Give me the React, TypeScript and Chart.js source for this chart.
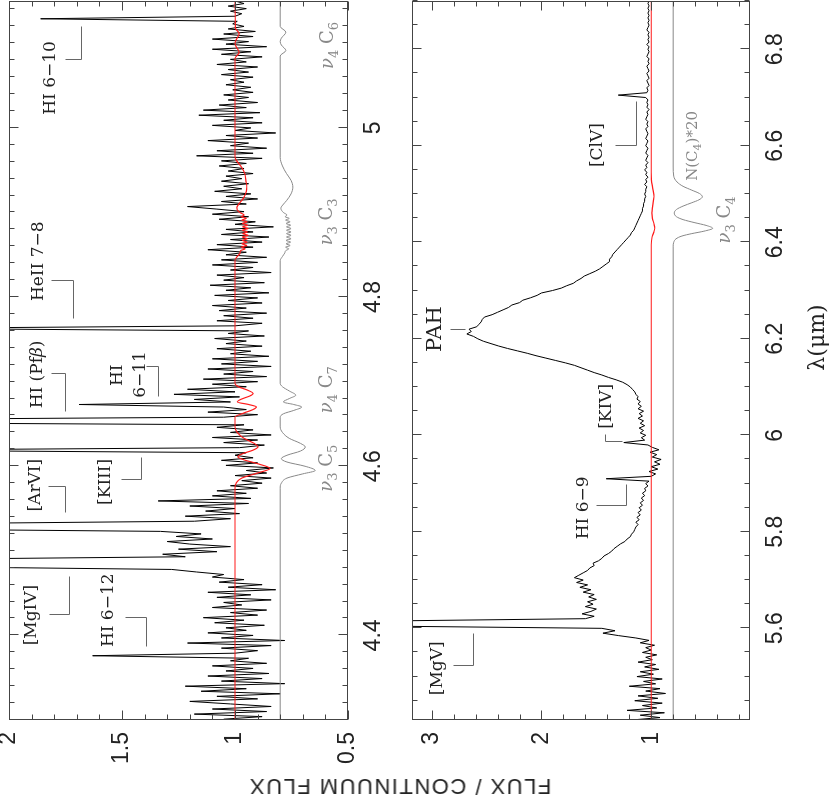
import React, { useEffect, useRef } from "react";
import { Chart, registerables } from "chart.js";

Chart.register(...registerables);

// ================= TOP PANEL (4.3 - 5.15 micron) =================
const TOP_LAMBDA_START = 4.301;
const TOP_LAMBDA_STEP = 0.003;
const TOP_FLUX = [
  1.05, 0.88, 1.18, 0.86, 1.10, 0.84, 1.02, 1.20, 0.90, 1.08,
  0.80, 1.15, 0.95, 1.22, 0.78, 1.06, 0.88, 1.12, 0.85, 1.04,
  0.92, 1.10, 0.86, 1.02, 0.94, 1.63, 1.00, 0.90, 1.06, 0.84,
  1.21, 0.78, 1.06, 0.92, 1.12, 0.95, 1.04, 0.87, 1.09, 0.96,
  1.14, 0.90, 1.02, 0.86, 1.10, 0.97, 1.05, 0.84, 1.08, 0.93,
  1.12, 0.82, 1.03, 0.88, 1.07, 0.96, 1.10, 1.05, 1.17, 1.28,
  2.3, 3.0, 3.0, 2.4, 1.22, 1.32, 1.08, 1.25, 1.02, 1.20,
  1.30, 1.10, 1.26, 1.15, 1.33, 2.6, 3.0, 2.4, 1.18, 1.02,
  1.22, 0.98, 1.13, 1.00, 1.20, 0.94, 1.34, 0.93, 1.10, 0.95,
  1.08, 0.90, 1.02, 0.88, 0.97, 0.84, 1.00, 0.86, 0.95, 0.83,
  1.04, 0.90, 1.06, 0.92, 1.00, 0.95, 2.6, 0.98, 0.87, 1.05,
  0.90, 1.10, 0.84, 1.02, 0.92, 1.08, 0.96, 3.0, 2.8, 1.05,
  0.90, 1.12, 0.95, 1.05, 1.69, 1.02, 1.18, 0.98, 1.27, 1.00,
  1.21, 0.95, 1.10, 0.90, 1.14, 0.86, 1.05, 0.92, 1.12, 0.84,
  1.06, 0.90, 1.10, 0.85, 1.02, 0.93, 1.08, 0.88, 1.04, 0.95,
  1.09, 0.87, 1.03, 0.94, 2.5, 1.00, 0.88, 1.08, 0.92, 1.05,
  0.86, 1.07, 0.95, 1.10, 0.88, 1.03, 0.90, 1.09, 0.85, 1.04,
  0.93, 1.11, 0.87, 1.05, 0.96, 1.08, 0.84, 1.02, 0.92, 1.10,
  0.90, 1.06, 0.86, 1.04, 0.95, 1.12, 0.92, 1.08, 0.88, 1.02,
  0.85, 1.06, 0.92, 1.04, 0.83, 1.00, 0.91, 1.07, 0.94, 1.10,
  0.96, 1.08, 1.21, 0.95, 1.06, 0.90, 1.04, 0.93, 1.09, 0.97,
  1.05, 0.94, 1.06, 0.97, 1.04, 0.92, 1.03, 0.96, 1.07, 0.95,
  1.06, 0.88, 1.17, 0.92, 1.08, 0.86, 1.02, 0.94, 1.12, 0.90,
  1.04, 0.82, 1.00, 0.93, 1.10, 0.88, 1.05, 0.92, 1.16, 0.89,
  1.14, 0.95, 1.07, 0.90, 1.03, 0.94, 1.05, 0.92, 1.01, 0.93,
  1.04, 0.96, 1.02, 0.92, 1.06, 0.94, 1.03, 0.90, 1.08, 0.95,
  1.02, 0.88, 1.06, 0.93, 1.10, 0.86, 1.04, 0.94, 1.10, 0.92,
  1.05, 0.91, 1.03, 0.96, 1.01, 0.99, 1.86, 1.00, 0.97, 1.02,
  0.95, 1.03, 0.96, 1.00,
];

// red model (lambda, flux)
const TOP_FIT: [number, number][] = [
  [4.300, 1.0], [4.574, 1.0], [4.580, 0.995], [4.586, 0.97], [4.592, 0.90], [4.5974, 0.845],
  [4.603, 0.90], [4.608, 0.965], [4.6111, 0.987], [4.615, 0.965], [4.619, 0.92], [4.6229, 0.898],
  [4.627, 0.915], [4.633, 0.96], [4.640, 0.99], [4.6465, 1.0], [4.658, 1.0], [4.663, 0.96],
  [4.667, 0.92], [4.670, 0.905], [4.673, 0.94], [4.676, 0.99], [4.679, 0.975], [4.683, 0.935],
  [4.686, 0.92], [4.690, 0.945], [4.694, 0.985], [4.698, 1.0], [4.843, 1.0], [4.848, 0.99],
  [4.852, 0.978], [4.855, 0.975], [4.857, 0.955], [4.859, 0.972], [4.861, 0.948], [4.863, 0.970],
  [4.865, 0.946], [4.867, 0.968], [4.869, 0.944], [4.871, 0.968], [4.873, 0.942], [4.875, 0.966],
  [4.877, 0.944], [4.879, 0.968], [4.881, 0.942], [4.883, 0.966], [4.885, 0.944], [4.887, 0.968],
  [4.889, 0.946], [4.891, 0.970], [4.893, 0.950], [4.895, 0.972], [4.897, 0.960], [4.900, 0.978],
  [4.903, 0.99], [4.906, 0.992], [4.911, 0.98], [4.918, 0.96], [4.925, 0.95], [4.930, 0.948],
  [4.937, 0.952], [4.946, 0.957], [4.955, 0.975], [4.962, 0.995], [4.966, 1.0], [5.082, 1.0],
  [5.0892, 0.982], [5.096, 0.995], [5.100, 1.0], [5.104, 0.995], [5.1116, 0.982], [5.118, 0.998],
  [5.150, 1.0],
];

// grey offset band model (lambda, flux)
const TOP_BANDS: [number, number][] = [
  [4.300, 0.8], [4.574, 0.8], [4.580, 0.795], [4.586, 0.77], [4.591, 0.70], [4.595, 0.645],
  [4.600, 0.69], [4.605, 0.77], [4.609, 0.795], [4.613, 0.77], [4.618, 0.71], [4.6228, 0.689],
  [4.627, 0.71], [4.633, 0.76], [4.640, 0.79], [4.6465, 0.8], [4.658, 0.8], [4.662, 0.786],
  [4.666, 0.74], [4.670, 0.705], [4.673, 0.74], [4.676, 0.786], [4.680, 0.76], [4.684, 0.731],
  [4.689, 0.76], [4.694, 0.79], [4.698, 0.8], [4.843, 0.8], [4.848, 0.79], [4.852, 0.78],
  [4.855, 0.775], [4.857, 0.762], [4.859, 0.776], [4.861, 0.756], [4.863, 0.774], [4.865, 0.754],
  [4.867, 0.774], [4.869, 0.752], [4.871, 0.772], [4.873, 0.752], [4.875, 0.772], [4.877, 0.752],
  [4.879, 0.772], [4.881, 0.752], [4.883, 0.772], [4.885, 0.754], [4.887, 0.774], [4.889, 0.756],
  [4.891, 0.776], [4.893, 0.760], [4.895, 0.778], [4.897, 0.770], [4.900, 0.786], [4.905, 0.797],
  [4.910, 0.785], [4.914, 0.772], [4.922, 0.752], [4.930, 0.744], [4.938, 0.752], [4.946, 0.772],
  [4.955, 0.79], [4.965, 0.8], [5.085, 0.8], [5.0915, 0.775], [5.098, 0.795], [5.102, 0.8],
  [5.106, 0.795], [5.1132, 0.775], [5.120, 0.8], [5.150, 0.8],
];

const TOP_X_TICKS = [4.4, 4.6, 4.8, 5.0];
const TOP_X_LABELS = ["4.4", "4.6", "4.8", "5"];
const TOP_Y_TICKS = [0.5, 1, 1.5, 2];
const TOP_Y_LABELS = ["0.5", "1", "1.5", "2"];

// [text, lambda, flux, font size]
const TOP_LINE_LABELS: [string, number, number, number][] = [
  ["HI 6−10", 5.059, 1.824, 17],
  ["HeII 7−8", 4.8423, 1.879, 17],
  ["HI (Pfβ)", 4.7085, 1.883, 17],
  ["HI", 4.7076, 1.529, 17],
  ["6−11", 4.7085, 1.425, 17],
  ["[ArVI]", 4.5776, 1.891, 17],
  ["[KIII]", 4.5815, 1.581, 17],
  ["[MgIV]", 4.4241, 1.906, 17],
  ["HI 6−12", 4.4297, 1.566, 17],
];
const TOP_BRACKETS: [number, number][][] = [
  [[5.0797, 1.754], [5.0797, 1.680], [5.1190, 1.680]],
  [[4.8190, 1.813], [4.8190, 1.717], [4.7746, 1.717]],
  [[4.7096, 1.813], [4.7096, 1.754], [4.6642, 1.754]],
  [[4.7174, 1.392], [4.7174, 1.341], [4.6820, 1.341]],
  [[4.5749, 1.828], [4.5749, 1.754], [4.5442, 1.754]],
  [[4.5836, 1.503], [4.5836, 1.414], [4.6092, 1.414]],
  [[4.4241, 1.821], [4.4241, 1.735], [4.4688, 1.735]],
  [[4.4202, 1.488], [4.4202, 1.392], [4.3866, 1.392]],
];
const TOP_BAND_LABELS: [string, number, number, number][] = [
  ["ν_4 C_6", 5.0974, 0.597, 18],
  ["ν_3 C_3", 4.8889, 0.600, 18],
  ["ν_4 C_7", 4.6904, 0.600, 18],
  ["ν_3 C_5", 4.5977, 0.600, 18],
];

// ================= BOTTOM PANEL (5.41 - 6.90 micron) =================
const BOT_LAMBDA_START = 5.41;
const BOT_LAMBDA_STEP = 0.005;
const BOT_FLUX = [
  1.18, 0.92, 1.10, 0.88, 1.22, 0.95, 1.08, 0.90, 1.15, 0.94,
  1.12, 0.87, 1.05, 0.92, 1.20, 0.96, 1.07, 0.90, 1.13, 0.98,
  1.10, 0.93, 1.06, 0.96, 1.12, 0.99, 1.05, 0.95, 1.08, 1.00,
  1.05, 0.97, 1.10, 1.02, 1.14, 1.30, 1.44, 1.33, 1.45, 3.6,
  4.0, 3.5, 1.60, 1.52, 1.63, 1.55, 1.50, 1.60, 1.53, 1.58,
  1.50, 1.57, 1.52, 1.62, 1.55, 1.65, 1.58, 1.68, 1.62, 1.70,
  1.66, 1.62, 1.58, 1.56, 1.52, 1.53, 1.48, 1.45, 1.43, 1.39,
  1.36, 1.34, 1.31, 1.28, 1.24, 1.22, 1.19, 1.18, 1.16, 1.15,
  1.14, 1.12, 1.14, 1.11, 1.13, 1.10, 1.12, 1.09, 1.11, 1.08,
  1.10, 1.07, 1.09, 1.06, 1.08, 1.05, 1.06, 1.03, 1.05, 1.02,
  1.41, 1.00, 0.96, 1.02, 0.94, 1.00, 0.92, 0.97, 0.91, 0.99,
  0.95, 1.01, 0.93, 0.99, 1.03, 1.25, 1.06, 1.09, 1.05, 1.10,
  1.07, 1.11, 1.06, 1.10, 1.07, 1.12, 1.08, 1.11, 1.07, 1.12,
  1.09, 1.12, 1.10, 1.13, 1.12, 1.14, 1.15, 1.17, 1.19, 1.22,
  1.26, 1.32, 1.39, 1.45, 1.52, 1.58, 1.64, 1.70, 1.78, 1.87,
  1.96, 2.05, 2.13, 2.22, 2.31, 2.39, 2.46, 2.53, 2.58, 2.62,
  2.68, 2.64, 2.66, 2.59, 2.57, 2.55, 2.54, 2.52, 2.45, 2.40,
  2.35, 2.30, 2.27, 2.20, 2.17, 2.10, 2.04, 2.00, 1.90, 1.82,
  1.77, 1.71, 1.68, 1.64, 1.61, 1.56, 1.51, 1.47, 1.44, 1.41,
  1.38, 1.38, 1.36, 1.35, 1.33, 1.31, 1.29, 1.27, 1.25, 1.23,
  1.21, 1.19, 1.18, 1.16, 1.15, 1.14, 1.13, 1.12, 1.11, 1.10,
  1.09, 1.08, 1.08, 1.07, 1.07, 1.06, 1.06, 1.05, 1.06, 1.05,
  1.05, 1.04, 1.06, 1.04, 1.05, 1.03, 1.05, 1.04, 1.06, 1.04,
  1.05, 1.03, 1.05, 1.04, 1.03, 1.05, 1.04, 1.03, 1.05, 1.04,
  1.03, 1.05, 1.04, 1.03, 1.04, 1.05, 1.03, 1.04, 1.03, 1.05,
  1.04, 1.03, 1.04, 1.02, 1.04, 1.03, 1.04, 1.03, 1.05, 1.30,
  1.04, 1.03, 1.04, 1.02, 1.03, 1.04, 1.02, 1.03, 1.04, 1.02,
  1.03, 1.04, 1.02, 1.03, 1.02, 1.04, 1.03, 1.02, 1.03, 1.02,
  1.04, 1.02, 1.03, 1.02, 1.03, 1.02, 1.04, 1.03, 1.02, 1.03,
  1.02, 1.03, 1.02, 1.03, 1.02, 1.03, 1.02, 1.03, 1.02,
];

const BOT_FIT: [number, number][] = [
  [5.41, 1.0], [6.395, 1.0], [6.410, 0.993], [6.420, 0.978], [6.429, 0.968], [6.438, 0.975],
  [6.450, 0.99], [6.4607, 0.995], [6.475, 0.988], [6.4944, 0.975], [6.510, 0.985], [6.530, 0.998],
  [6.545, 1.0], [6.90, 1.0],
];
const BOT_COLUMN: [number, number][] = [
  [5.41, 0.8], [6.392, 0.8], [6.400, 0.795], [6.407, 0.775], [6.413, 0.72], [6.418, 0.63],
  [6.423, 0.52], [6.429, 0.44], [6.435, 0.50], [6.441, 0.61], [6.447, 0.71], [6.453, 0.77],
  [6.4607, 0.79], [6.468, 0.77], [6.475, 0.71], [6.482, 0.63], [6.488, 0.565], [6.4944, 0.534],
  [6.501, 0.56], [6.508, 0.63], [6.516, 0.71], [6.525, 0.765], [6.537, 0.795], [6.556, 0.8],
  [6.90, 0.8],
];

const BOT_X_TICKS = [5.6, 5.8, 6.0, 6.2, 6.4, 6.6, 6.8];
const BOT_X_LABELS = ["5.6", "5.8", "6", "6.2", "6.4", "6.6", "6.8"];
const BOT_Y_TICKS = [1, 2, 3];
const BOT_Y_LABELS = ["1", "2", "3"];

const BOT_LINE_LABELS: [string, number, number, number][] = [
  ["[MgV]", 5.5171, 2.963, 17],
  ["HI 6−9", 5.8497, 1.629, 17],
  ["[KIV]", 6.0599, 1.4245, 17],
  ["PAH", 6.2202, 2.985, 21],
  ["[ClV]", 6.6014, 1.508, 17],
];
const BOT_BRACKETS: [number, number][][] = [
  [[5.5219, 2.804], [5.5219, 2.622], [5.5875, 2.622]],
  [[5.8530, 1.500], [5.8530, 1.234], [5.8979, 1.234]],
  [[6.0013, 1.4245], [5.9854, 1.4245], [5.9854, 1.27]],
  [[6.2186, 2.834], [6.2186, 2.697]],
  [[6.6000, 1.334], [6.6000, 1.136], [6.6910, 1.136]],
];
const BOT_BAND_LABELS: [string, number, number, number][] = [
  ["N(C_4)*20", 6.5997, 0.634, 15],
  ["ν_3 C_4", 6.4462, 0.343, 18],
];

const Y_TITLE = "FLUX / CONTINUUM FLUX";
const X_TITLE = "λ(μm)";

const SERIF = '"DejaVu Serif", "Liberation Serif", serif';
const SANS = '"Liberation Sans", Arial, sans-serif';

function drawRich(ctx: CanvasRenderingContext2D, text: string, cx: number, cy: number, size: number, color: string) {
  const segs: { t: string; sub: boolean; it: boolean }[] = [];
  for (let i = 0; i < text.length; i++) {
    let ch = text[i];
    let sub = false;
    if (ch === "_" && i + 1 < text.length) {
      sub = true;
      ch = text[++i];
    }
    const it = ch === "ν" || ch === "β";
    const last = segs[segs.length - 1];
    if (last && last.sub === sub && last.it === it) last.t += ch;
    else segs.push({ t: ch, sub, it });
  }
  const subSize = Math.round(size * 0.7);
  const fontOf = (s: { sub: boolean; it: boolean }) => `${s.it ? "italic " : ""}${s.sub ? subSize : size}px ${SERIF}`;
  let total = 0;
  const ws = segs.map((s) => {
    ctx.font = fontOf(s);
    const w = ctx.measureText(s.t).width;
    total += w;
    return w;
  });
  let x = cx - total / 2;
  const base = cy + size * 0.365;
  ctx.fillStyle = color;
  ctx.textAlign = "left";
  ctx.textBaseline = "alphabetic";
  segs.forEach((s, i) => {
    ctx.font = fontOf(s);
    ctx.fillText(s.t, x, s.sub ? base + size * 0.3 : base);
    x += ws[i];
  });
}

interface Panel {
  xMin: number; xMax: number; yMin: number; yMax: number;
  xTicks: number[]; xLabels: string[]; yTicks: number[]; yLabels: string[];
  xMinor: number; xMajor: number; yMinor: number; yMajor: number;
  padTop: number; axisHeight: number;
  lamStart: number; lamStep: number; flux: number[];
  fit: [number, number][]; bands: [number, number][];
  lineLabels: [string, number, number, number][];
  brackets: [number, number][][];
  bandLabels: [string, number, number, number][];
  title?: string;
}

function buildConfig(p: Panel): any {
  const spectrum = p.flux.map((f, i) => ({ x: p.lamStart + i * p.lamStep, y: f }));
  const decor = {
    id: "decor",
    afterDatasetsDraw(chart: any) {
      const ctx: CanvasRenderingContext2D = chart.ctx;
      const a = chart.chartArea;
      const xs = chart.scales.x;
      const ys = chart.scales.y;
      ctx.save();
      ctx.strokeStyle = "#444";
      ctx.lineWidth = 1;
      const L = Math.round(a.left) + 0.5, R = Math.round(a.right) - 0.5;
      const T = Math.round(a.top) + 0.5, B = Math.round(a.bottom) - 0.5;
      ctx.strokeRect(L, T, R - L, B - T);
      ctx.beginPath();
      const doTicks = (scale: any, minor: number, major: number, horiz: boolean) => {
        const i0 = Math.ceil(scale.min / minor - 1e-6);
        const i1 = Math.floor(scale.max / minor + 1e-6);
        for (let i = i0; i <= i1; i++) {
          const v = i * minor;
          const r = v / major;
          const isMajor = Math.abs(r - Math.round(r)) < 1e-6;
          const len = isMajor ? 9 : 5;
          const px = Math.round(scale.getPixelForValue(v)) + 0.5;
          if (horiz) {
            ctx.moveTo(px, B); ctx.lineTo(px, B - len);
            ctx.moveTo(px, T); ctx.lineTo(px, T + len);
          } else {
            ctx.moveTo(L, px); ctx.lineTo(L + len, px);
            ctx.moveTo(R, px); ctx.lineTo(R - len, px);
          }
        }
      };
      doTicks(xs, p.xMinor, p.xMajor, true);
      doTicks(ys, p.yMinor, p.yMajor, false);
      ctx.stroke();

      ctx.strokeStyle = "#666";
      ctx.lineWidth = 1;
      p.brackets.forEach((pts) => {
        ctx.beginPath();
        pts.forEach(([lx, fy], i) => {
          const X = Math.round(xs.getPixelForValue(lx)) + 0.5;
          const Y = Math.round(ys.getPixelForValue(fy)) + 0.5;
          if (i === 0) ctx.moveTo(X, Y);
          else ctx.lineTo(X, Y);
        });
        ctx.stroke();
      });
      p.lineLabels.forEach(([t, lx, fy, size]) => {
        drawRich(ctx, t, xs.getPixelForValue(lx), ys.getPixelForValue(fy), size, "#222");
      });
      p.bandLabels.forEach(([t, lx, fy, size]) => {
        drawRich(ctx, t, xs.getPixelForValue(lx), ys.getPixelForValue(fy), size, "#888");
      });
      if (p.title) {
        ctx.font = `22px ${SERIF}`;
        ctx.fillStyle = "#222";
        ctx.textAlign = "center";
        ctx.textBaseline = "middle";
        ctx.fillText(p.title, (a.left + a.right) / 2 + 23, a.bottom + 68);
      }
      ctx.restore();
    },
  };

  return {
    type: "line",
    data: {
      datasets: [
        {
          data: spectrum, borderColor: "#000", borderWidth: 1, pointRadius: 0,
          tension: 0, fill: false, order: 3,
        },
        {
          data: p.bands.map(([x, y]) => ({ x, y })), borderColor: "#888", borderWidth: 1,
          pointRadius: 0, cubicInterpolationMode: "monotone", fill: false, order: 2,
        },
        {
          data: p.fit.map(([x, y]) => ({ x, y })), borderColor: "#ff1a1a", borderWidth: 1.2,
          pointRadius: 0, cubicInterpolationMode: "monotone", fill: false, order: 1,
        },
      ],
    },
    options: {
      animation: false,
      responsive: false,
      maintainAspectRatio: false,
      events: [],
      layout: { padding: { top: p.padTop, right: 1, left: 0, bottom: 0 } },
      plugins: { legend: { display: false }, tooltip: { enabled: false }, title: { display: false } },
      scales: {
        x: {
          type: "linear",
          min: p.xMin,
          max: p.xMax,
          afterBuildTicks: (s: any) => { s.ticks = p.xTicks.map((v) => ({ value: v })); },
          afterFit: (s: any) => { s.height = p.axisHeight; s.paddingLeft = 0; s.paddingRight = 0; },
          grid: { display: false, drawTicks: false, tickLength: 0 },
          border: { display: false },
          ticks: {
            autoSkip: false, maxRotation: 0, minRotation: 0, padding: 12, color: "#222",
            font: { family: SANS, size: 23 },
            callback: (_v: any, i: number) => p.xLabels[i],
          },
        },
        y: {
          type: "linear",
          min: p.yMin,
          max: p.yMax,
          afterBuildTicks: (s: any) => { s.ticks = p.yTicks.map((v) => ({ value: v })); },
          afterFit: (s: any) => { s.width = 79; s.paddingTop = 0; s.paddingBottom = 0; },
          grid: { display: false, drawTicks: false, tickLength: 0 },
          border: { display: false },
          ticks: {
            autoSkip: false, padding: 12, color: "#222",
            font: { family: SANS, size: 23 },
            callback: (_v: any, i: number) => p.yLabels[i],
          },
        },
      },
    },
    plugins: [decor],
  };
}

const TOP_PANEL: Panel = {
  xMin: 4.3, xMax: 5.15, yMin: 0.5, yMax: 2,
  xTicks: TOP_X_TICKS, xLabels: TOP_X_LABELS, yTicks: TOP_Y_TICKS, yLabels: TOP_Y_LABELS,
  xMinor: 0.02, xMajor: 0.2, yMinor: 0.1, yMajor: 0.5,
  padTop: 9, axisHeight: 52,
  lamStart: TOP_LAMBDA_START, lamStep: TOP_LAMBDA_STEP, flux: TOP_FLUX,
  fit: TOP_FIT, bands: TOP_BANDS,
  lineLabels: TOP_LINE_LABELS, brackets: TOP_BRACKETS, bandLabels: TOP_BAND_LABELS,
};

const BOT_PANEL: Panel = {
  xMin: 5.41, xMax: 6.9, yMin: 0.1, yMax: 3.18,
  xTicks: BOT_X_TICKS, xLabels: BOT_X_LABELS, yTicks: BOT_Y_TICKS, yLabels: BOT_Y_LABELS,
  xMinor: 0.05, xMajor: 0.2, yMinor: 0.2, yMajor: 1,
  padTop: 12, axisHeight: 80,
  lamStart: BOT_LAMBDA_START, lamStep: BOT_LAMBDA_STEP, flux: BOT_FLUX,
  fit: BOT_FIT, bands: BOT_COLUMN,
  lineLabels: BOT_LINE_LABELS, brackets: BOT_BRACKETS, bandLabels: BOT_BAND_LABELS,
  title: X_TITLE,
};

export default function App() {
  const topRef = useRef<HTMLCanvasElement>(null);
  const botRef = useRef<HTMLCanvasElement>(null);
  useEffect(() => {
    const c1 = new Chart(topRef.current as HTMLCanvasElement, buildConfig(TOP_PANEL));
    const c2 = new Chart(botRef.current as HTMLCanvasElement, buildConfig(BOT_PANEL));
    return () => {
      c1.destroy();
      c2.destroy();
    };
  }, []);
  return (
    <div
      style={{
        position: "fixed", left: 0, top: 0, width: 799, height: 830,
        transformOrigin: "0 0", transform: "translate(0px, 799px) rotate(-90deg)",
        background: "#fff", overflow: "hidden",
      }}
    >
      <canvas ref={topRef} width={799} height={400}
        style={{ position: "absolute", left: 0, top: 0, width: 799, height: 400 }} />
      <canvas ref={botRef} width={799} height={430}
        style={{ position: "absolute", left: 0, top: 400, width: 799, height: 430 }} />
      <div
        style={{
          position: "absolute", left: 12.5, top: 400,
          transform: "translate(-50%, -50%) rotate(-90deg)",
          whiteSpace: "nowrap", font: `22px ${SANS}`, color: "#222", lineHeight: 1,
          letterSpacing: "1.5px",
        }}
      >
        {Y_TITLE}
      </div>
    </div>
  );
}
